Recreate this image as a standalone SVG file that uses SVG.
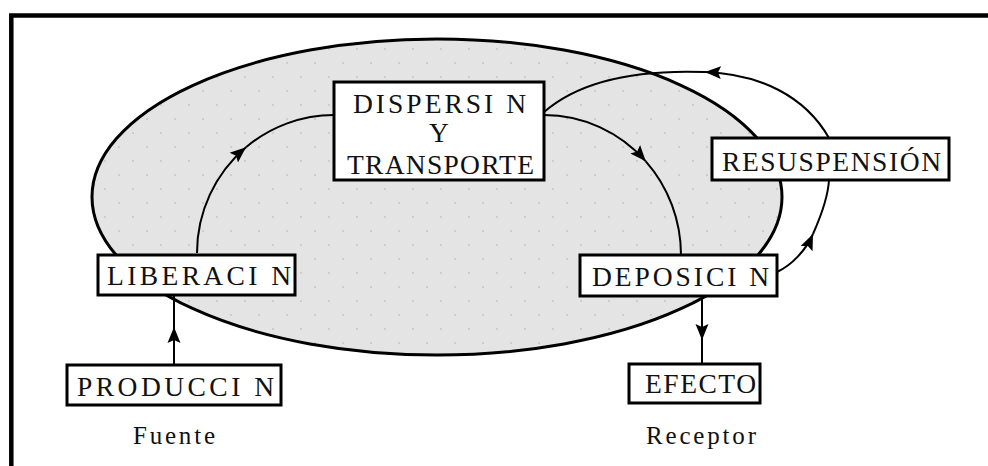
<svg xmlns="http://www.w3.org/2000/svg" width="988" height="466" viewBox="0 0 988 466">
  <style>
    .box { fill: #ffffff; stroke: #000000; stroke-width: 3; }
    .lbl { font-family: "Liberation Serif", "Times New Roman", serif; font-size: 27.5px; fill: #111111; }
    .cap { font-family: "Liberation Serif", "Times New Roman", serif; font-size: 25px; fill: #111111; }
    .con { fill: none; stroke: #000000; stroke-width: 2; }
  </style>
  <defs>
    <pattern id="dots" width="28" height="28" patternUnits="userSpaceOnUse">
      <rect width="28" height="28" fill="#e4e4e4"/>
      <path d="M7,6 V8 M6,7 H8 M21,20 V22 M20,21 H22" stroke="#c6c6c6" stroke-width="1"/>
    </pattern>
    <marker id="arr" markerUnits="userSpaceOnUse" markerWidth="16" markerHeight="14" refX="16" refY="6.5" orient="auto" viewBox="0 0 16 13">
      <path d="M0,0 L16,6.5 L0,13 L3,6.5 z" fill="#000000"/>
    </marker>
  </defs>
  <rect width="988" height="466" fill="#ffffff"/>
  <path d="M11.3,466 V15.5 H988" fill="none" stroke="#000000" stroke-width="4.5"/>

  <g id="zona">
    <ellipse cx="437" cy="197" rx="345" ry="158" fill="url(#dots)" stroke="#000000" stroke-width="3"/>
  </g>

  <g id="connectors">
    <path class="con" d="M197,253 A137,138 0 0 1 246,147.3" marker-end="url(#arr)"/>
    <path class="con" d="M246,147.3 A137,138 0 0 1 334,115"/>
    <path class="con" d="M544,115 A137,140 0 0 1 645.8,161.3" marker-end="url(#arr)"/>
    <path class="con" d="M645.8,161.3 A137,140 0 0 1 681,255"/>
    <path class="con" d="M777,272 C792,265 806,250 813,234" marker-end="url(#arr)"/>
    <path class="con" d="M813,234 C821,216 828,198 829,180"/>
    <path class="con" d="M829,138 C805,96 760,74 705,72" marker-end="url(#arr)"/>
    <path class="con" d="M705,72 C625,69 575,85 544,112"/>
    <path class="con" d="M174,365 V327" marker-end="url(#arr)"/>
    <path class="con" d="M174,327 V295"/>
    <path class="con" d="M702,296 V340" marker-end="url(#arr)"/>
    <path class="con" d="M702,340 V364"/>
  </g>

  <g id="dispersion">
    <rect class="box" x="334" y="82" width="210" height="98"/>
    <text class="lbl" x="353" y="113" textLength="173" lengthAdjust="spacing">DISPERSI N</text>
    <text class="lbl" x="439" y="142" text-anchor="middle">Y</text>
    <text class="lbl" x="347" y="174" textLength="187" lengthAdjust="spacing">TRANSPORTE</text>
  </g>
  <g id="liberacion">
    <rect class="box" x="98" y="255" width="197" height="40"/>
    <text class="lbl" x="107" y="285" textLength="184" lengthAdjust="spacing">LIBERACI N</text>
  </g>
  <g id="produccion">
    <rect class="box" x="67" y="365" width="214" height="40"/>
    <text class="lbl" x="77" y="396" textLength="197" lengthAdjust="spacing">PRODUCCI N</text>
  </g>
  <g id="deposicion">
    <rect class="box" x="580" y="255" width="197" height="41"/>
    <text class="lbl" x="592" y="286" textLength="177" lengthAdjust="spacing">DEPOSICI N</text>
  </g>
  <g id="resuspension">
    <rect class="box" x="712" y="138" width="237" height="42"/>
    <text class="lbl" x="722" y="171" textLength="219" lengthAdjust="spacing">RESUSPENSIÓN</text>
  </g>
  <g id="efecto">
    <rect class="box" x="629" y="364" width="131" height="39"/>
    <text class="lbl" x="645" y="393" textLength="111" lengthAdjust="spacing">EFECTO</text>
  </g>
  <g id="fuente">
    <text class="cap" x="133" y="444" textLength="82" lengthAdjust="spacing">Fuente</text>
  </g>
  <g id="receptor">
    <text class="cap" x="646" y="444" textLength="110" lengthAdjust="spacing">Receptor</text>
  </g>
</svg>
